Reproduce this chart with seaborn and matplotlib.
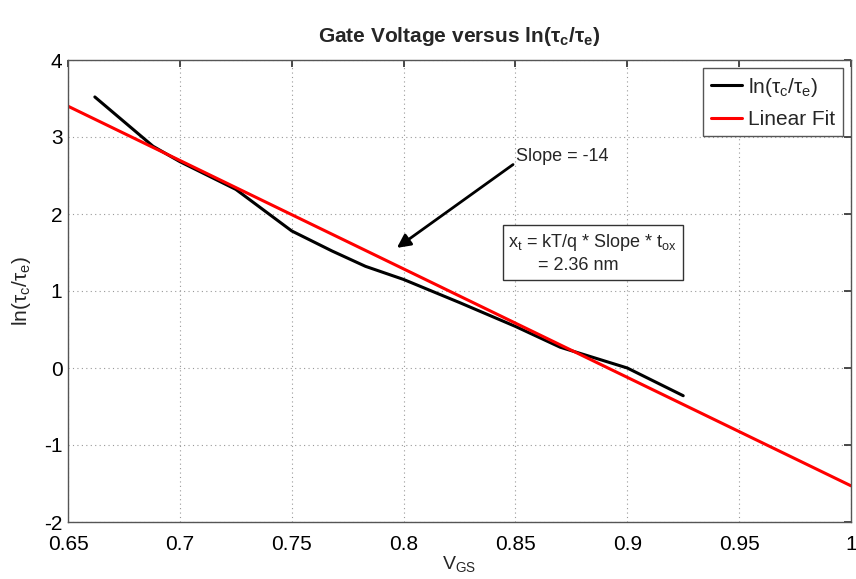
import matplotlib
matplotlib.use("Agg")
import matplotlib.pyplot as plt
import seaborn as sns
import pandas as pd

# data
vgs = [0.662, 0.688, 0.700, 0.725, 0.750, 0.768, 0.783, 0.800, 0.825, 0.850, 0.870, 0.900, 0.925]
ln_ratio = [3.52, 2.88, 2.68, 2.32, 1.78, 1.52, 1.32, 1.15, 0.85, 0.54, 0.27, 0.00, -0.36]
fit_x = [0.65, 1.00]
fit_y = [3.40, -1.53]
xticks = [0.65, 0.7, 0.75, 0.8, 0.85, 0.9, 0.95, 1]
xtick_labels = ["0.65", "0.7", "0.75", "0.8", "0.85", "0.9", "0.95", "1"]
yticks = [-2, -1, 0, 1, 2, 3, 4]

sns.set_theme(style="white")
plt.rcParams['font.family'] = ['Liberation Sans Narrow', 'Liberation Sans', 'DejaVu Sans']
plt.rcParams['mathtext.fontset'] = 'custom'
plt.rcParams['mathtext.rm'] = 'Liberation Sans'
plt.rcParams['mathtext.it'] = 'Liberation Sans'
plt.rcParams['mathtext.bf'] = 'Liberation Sans:bold'
plt.rcParams['axes.unicode_minus'] = False

fig, ax = plt.subplots(figsize=(8.56, 5.79), dpi=100)
fig.subplots_adjust(left=68/856, right=851/856, top=1-60/579, bottom=1-522/579)

df_data = pd.DataFrame({"x": vgs, "y": ln_ratio})
df_fit = pd.DataFrame({"x": fit_x, "y": fit_y})
sns.lineplot(data=df_data, x="x", y="y", ax=ax, color="black", linewidth=2.2,
             sort=False, estimator=None, label=r"ln($\tau_{\rm c}$/$\tau_{\rm e}$)")
sns.lineplot(data=df_fit, x="x", y="y", ax=ax, color="#ff0000", linewidth=2.2,
             sort=False, estimator=None, label="Linear Fit")

ax.set_xlim(0.65, 1.0)
ax.set_ylim(-2, 4)
ax.set_xticks(xticks)
ax.set_xticklabels(xtick_labels)
ax.set_yticks(yticks)
ax.grid(True, linestyle=(0, (1, 3)), color="#999999", linewidth=0.8)
ax.tick_params(axis="both", which="both", direction="in", length=5, top=True, right=True,
               labelsize=15, colors="#333333", labelcolor="black")
ax.tick_params(axis="x", pad=9)
ax.tick_params(axis="y", pad=4)
for s in ax.spines.values():
    s.set_color("#555555")
    s.set_linewidth(1.0)

ax.set_title(r"Gate Voltage versus ln($\mathbf{\tau_{c}}$/$\mathbf{\tau_{e}}$)", fontsize=15,
             fontweight="bold", pad=13)
ax.set_xlabel(r"V$_{\rm GS}$", fontsize=14, labelpad=0)
ax.set_ylabel(r"ln($\tau_{\rm c}$/$\tau_{\rm e}$)", fontsize=15, labelpad=8)

leg = ax.legend(loc="upper right", fontsize=15, fancybox=False, frameon=True,
                framealpha=1, edgecolor="#555555", handlelength=1.5,
                borderaxespad=0.4, handletextpad=0.3, borderpad=0.35, labelspacing=0.55)
leg.get_frame().set_linewidth(1.0)

ax.annotate("Slope = -14", xy=(0.797, 1.56), xytext=(0.8504, 2.75),
            fontsize=13, ha="left", va="center",
            arrowprops=dict(arrowstyle="-|>", color="black", lw=2.0,
                            mutation_scale=20, shrinkA=0, shrinkB=0,
                            relpos=(0.0, 0.15)))

ax.text(0.8467, 1.49, "x$_{\\rm t}$ = kT/q * Slope * t$_{\\rm ox}$\n      = 2.36 nm",
        fontsize=13, ha="left", va="center", linespacing=1.3,
        bbox=dict(boxstyle="square,pad=0.3", facecolor="white", edgecolor="#333333", linewidth=1.0))

fig.savefig("out.png", dpi=100)
